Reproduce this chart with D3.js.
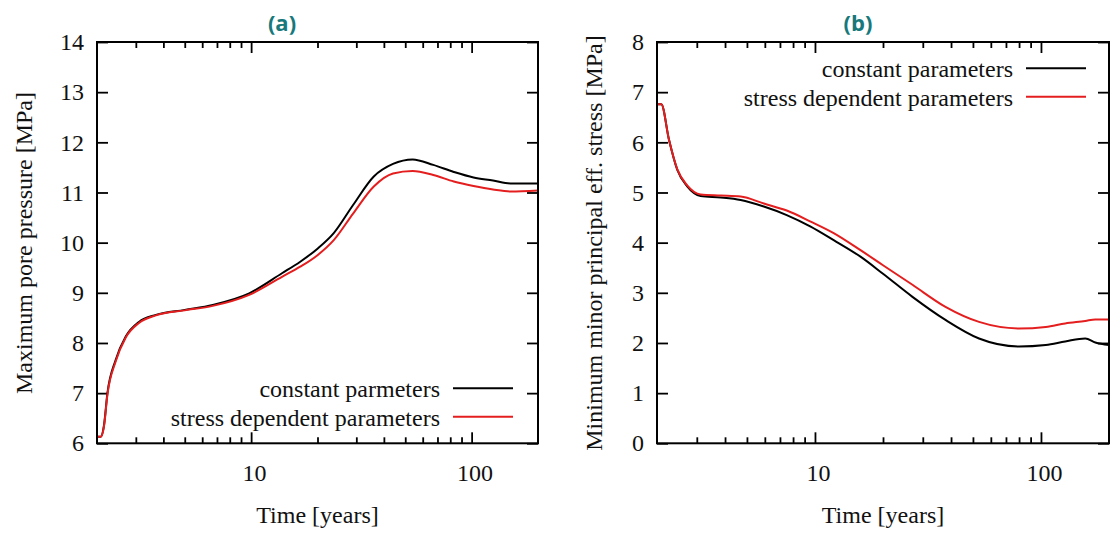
<!DOCTYPE html>
<html>
<head>
<meta charset="utf-8">
<script src="https://cdn.jsdelivr.net/npm/d3@7"></script>
<style>
  body { margin: 0; background: #fff; }
  svg text { font-family: "Liberation Serif", "Times New Roman", serif; fill: #111; }
</style>
</head>
<body>
<svg id="fig" width="1110" height="534"></svg>
<script>
// ---- data ----
const timeA = [2.0, 2.08, 2.15, 2.23, 2.43, 2.7, 3.1, 3.7, 5.0, 6.7, 9.8, 13.8, 16.7, 20, 23.7, 29, 36, 44, 54, 67, 83, 102, 125, 150, 200];
const pressureConst  = [6.13, 6.13, 6.35, 7.0, 7.66, 8.13, 8.42, 8.56, 8.66, 8.76, 8.99, 9.39, 9.62, 9.88, 10.19, 10.75, 11.32, 11.57, 11.66, 11.55, 11.41, 11.30, 11.24, 11.18, 11.18];
const pressureStress = [6.13, 6.13, 6.33, 6.97, 7.63, 8.11, 8.40, 8.55, 8.65, 8.74, 8.96, 9.32, 9.52, 9.75, 10.05, 10.58, 11.12, 11.38, 11.43, 11.35, 11.22, 11.13, 11.06, 11.02, 11.04];

const timeB = [2.0, 2.09, 2.26, 2.46, 2.72, 3.12, 3.83, 4.69, 5.94, 7.5, 9.57, 12.1, 15.9, 20, 27, 37.8, 53.2, 80, 105, 128, 157, 174, 200];
const stressConst  = [6.76, 6.76, 6.05, 5.45, 5.12, 4.93, 4.90, 4.85, 4.72, 4.55, 4.32, 4.05, 3.72, 3.38, 2.92, 2.46, 2.09, 1.93, 1.96, 2.03, 2.09, 2.01, 1.96];
const stressStress = [6.76, 6.76, 6.05, 5.46, 5.14, 4.96, 4.94, 4.92, 4.78, 4.64, 4.42, 4.19, 3.85, 3.55, 3.16, 2.72, 2.42, 2.29, 2.32, 2.39, 2.44, 2.47, 2.47];

const majorTicks = [10, 100];
const minorTicks = [3, 4, 5, 6, 7, 8, 9, 20, 30, 40, 50, 60, 70, 80, 90];
const yTicksA = [6, 7, 8, 9, 10, 11, 12, 13, 14];
const yTicksB = [0, 1, 2, 3, 4, 5, 6, 7, 8];

const svg = d3.select("#fig");
const fontSize = 24;
const black = "#000", red = "#e41e1e";

function drawPanel(p) {
  const x = d3.scaleLog().domain([2, 200]).range([p.left, p.right]);
  const y = d3.scaleLinear().domain(p.yDomain).range([443.3, 42]);
  const g = svg.append("g");

  // ticks (gnuplot style: inward, mirrored)
  const bottom = g.append("g").attr("transform", "translate(0,443.3)")
    .call(d3.axisBottom(x).tickValues(majorTicks).tickFormat(d3.format("d"))
      .tickSizeInner(-11).tickSizeOuter(0).tickPadding(21));
  g.append("g").attr("transform", "translate(0,443.3)")
    .call(d3.axisBottom(x).tickValues(minorTicks).tickFormat("").tickSizeInner(-6).tickSizeOuter(0));
  g.append("g").attr("transform", "translate(0,42)")
    .call(d3.axisTop(x).tickValues(majorTicks).tickFormat("").tickSizeInner(-11).tickSizeOuter(0));
  g.append("g").attr("transform", "translate(0,42)")
    .call(d3.axisTop(x).tickValues(minorTicks).tickFormat("").tickSizeInner(-6).tickSizeOuter(0));
  g.append("g").attr("transform", `translate(${p.left},0)`)
    .call(d3.axisLeft(y).tickValues(p.yTicks).tickSizeInner(-11).tickSizeOuter(0).tickPadding(13));
  g.append("g").attr("transform", `translate(${p.right},0)`)
    .call(d3.axisRight(y).tickValues(p.yTicks).tickFormat("").tickSizeInner(-11).tickSizeOuter(0));

  g.selectAll(".domain").remove();
  g.selectAll(".tick line").attr("stroke", black).attr("stroke-width", 1.8);
  g.selectAll(".tick text").style("font-size", fontSize + "px")
    .style("font-family", '"Liberation Serif", serif').attr("fill", "#111");
  bottom.selectAll(".tick text").attr("dx", 3);

  // curves
  const line = vals => d3.line()
    .x((d, i) => x(p.time[i]))
    .y(d => y(d))
    .curve(d3.curveMonotoneX)(vals);

  g.append("path").attr("d", line(p.series[0])).attr("fill", "none")
    .attr("stroke", black).attr("stroke-width", 2);
  g.append("path").attr("d", line(p.series[1])).attr("fill", "none")
    .attr("stroke", red).attr("stroke-width", 2);

  // frame
  g.append("rect")
    .attr("x", p.left).attr("y", 42)
    .attr("width", p.right - p.left).attr("height", 443.3 - 42)
    .attr("fill", "none").attr("stroke", black).attr("stroke-width", 2);

  // legend
  p.legend.forEach((lg, i) => {
    const ly = p.legendY + i * 28.4;
    g.append("line")
      .attr("x1", p.legendX).attr("x2", p.legendX + 60)
      .attr("y1", ly).attr("y2", ly)
      .attr("stroke", i === 0 ? black : red).attr("stroke-width", 2);
    g.append("text")
      .attr("x", p.legendX - 13).attr("y", ly + 9)
      .attr("text-anchor", "end")
      .style("font-size", fontSize + "px")
      .text(lg);
  });

  // axis titles
  g.append("text")
    .attr("x", (p.left + p.right) / 2).attr("y", 523)
    .attr("text-anchor", "middle")
    .style("font-size", fontSize + "px")
    .text("Time [years]");

  g.append("text")
    .attr("transform", `translate(${p.yLabelX},243) rotate(-90)`)
    .attr("text-anchor", "middle")
    .style("font-size", fontSize + "px")
    .text(p.yLabel);

  // panel title
  g.append("text")
    .attr("x", p.titleX).attr("y", 31)
    .attr("text-anchor", "middle")
    .style("font-family", '"Open Sans", sans-serif')
    .style("font-weight", "bold")
    .style("font-size", "22px")
    .style("fill", "#17797b")
    .text(p.title);
}

drawPanel({
  left: 97, right: 538,
  yDomain: [6, 14], yTicks: yTicksA,
  time: timeA, series: [pressureConst, pressureStress],
  legend: ["constant parmeters", "stress dependent parameters"],
  legendX: 453, legendY: 388.3,
  yLabel: "Maximum pore pressure [MPa]", yLabelX: 31.5,
  title: "(a)", titleX: 282
});

drawPanel({
  left: 657, right: 1109,
  yDomain: [0, 8], yTicks: yTicksB,
  time: timeB, series: [stressConst, stressStress],
  legend: ["constant parameters", "stress dependent parameters"],
  legendX: 1026, legendY: 68.3,
  yLabel: "Minimum minor principal eff. stress [MPa]", yLabelX: 601.5,
  title: "(b)", titleX: 858
});
</script>
</body>
</html>
